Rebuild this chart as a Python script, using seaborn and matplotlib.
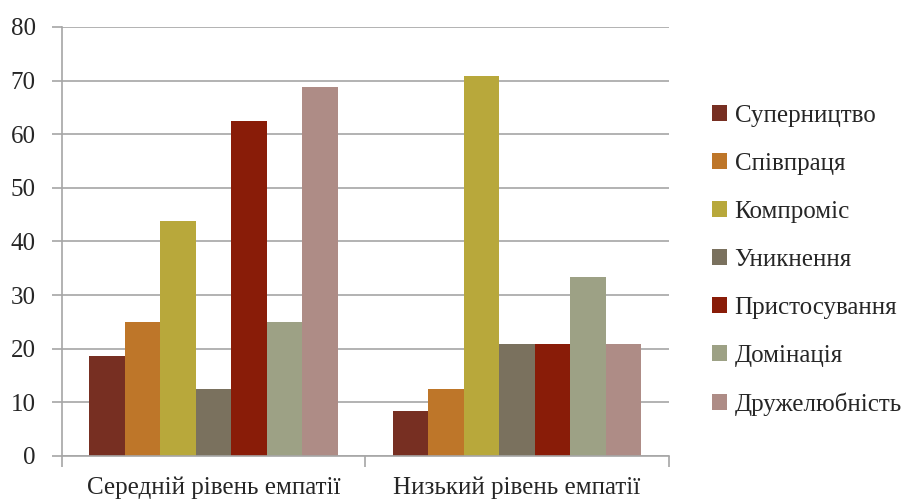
import matplotlib
matplotlib.use("Agg")
import matplotlib.pyplot as plt
import pandas as pd
import seaborn as sns

# ===== дані =====
groups = ["Середній рівень емпатії", "Низький рівень емпатії"]
styles = ["Суперництво", "Співпраця", "Компроміс", "Уникнення",
          "Пристосування", "Домінація", "Дружелюбність"]
medium_vals = [18.7, 25.0, 43.8, 12.5, 62.5, 25.0, 68.8]
low_vals = [8.3, 12.5, 70.8, 20.8, 20.8, 33.3, 20.8]
colors = ["#772F22", "#BE7629", "#B8A83B", "#7A715E",
          "#891C08", "#9DA185", "#AE8C86"]

rows = []
for g, vals in zip(groups, [medium_vals, low_vals]):
    for s, v in zip(styles, vals):
        rows.append({"group": g, "style": s, "value": v})
df = pd.DataFrame(rows)

sns.set_style("white")
plt.rcParams["font.family"] = ["Liberation Serif", "DejaVu Serif"]

fig = plt.figure(figsize=(9.11, 5.0), dpi=100)
ax = fig.add_axes([0.068, 0.088, 0.666, 0.858])

sns.barplot(data=df, x="group", y="value", hue="style", order=groups,
            hue_order=styles, palette=colors, width=0.82, linewidth=0,
            saturation=1, ax=ax, legend=True)

grid_c = "#A6A6A6"
ax.set_ylim(0, 80)
ax.set_yticks(range(0, 81, 10))
ax.yaxis.grid(True, color=grid_c, linewidth=1.2)
ax.set_axisbelow(True)
ax.set_xlim(-0.5, 1.5)

# підписи груп без рисок, риски на межах груп
ax.set_xticks([0, 1])
ax.set_xticklabels(groups)
ax.set_xticks([-0.5, 0.5, 1.5], minor=True)
ax.tick_params(axis="x", which="major", length=0, pad=15, labelsize=18)
ax.tick_params(axis="x", which="minor", length=8, color=grid_c, width=1.2)
ax.tick_params(axis="y", length=7, color=grid_c, width=1.2, labelsize=18, pad=12)
ax.tick_params(left=True, bottom=True, which="both")

for side in ["top", "right"]:
    ax.spines[side].set_visible(False)
for side in ["left", "bottom"]:
    ax.spines[side].set_color(grid_c)
    ax.spines[side].set_linewidth(1.2)

ax.set_xlabel("")
ax.set_ylabel("")

handles, labels = ax.get_legend_handles_labels()
ax.legend(handles, labels, loc="center left", bbox_to_anchor=(1.055, 0.456),
          frameon=False, fontsize=18, handlelength=0.6, handleheight=0.6,
          handletextpad=0.3, labelspacing=1.04, borderaxespad=0)

fig.savefig("out.png", dpi=100)
